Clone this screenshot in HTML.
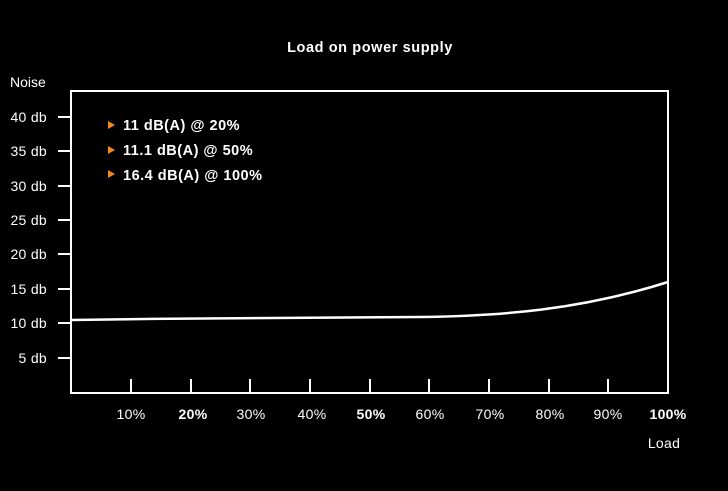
<!DOCTYPE html>
<html><head><style>
body{margin:0;background:#000;}
svg{display:block}
text{font-family:"Liberation Sans",Arial,sans-serif;fill:#fff}
</style></head><body>
<svg width="728" height="491" viewBox="0 0 728 491">
<rect width="728" height="491" fill="#000"/>
<text x="370" y="52" font-size="14.5" font-weight="bold" text-anchor="middle" letter-spacing="0.6">Load on power supply</text>
<text x="10" y="87" font-size="14">Noise</text>
<rect x="71" y="91" width="597" height="302" fill="none" stroke="#fff" stroke-width="2"/>
<g stroke="#fff" stroke-width="2">
<line x1="58" y1="117" x2="71" y2="117"/><line x1="58" y1="151" x2="71" y2="151"/>
<line x1="58" y1="186" x2="71" y2="186"/><line x1="58" y1="220" x2="71" y2="220"/>
<line x1="58" y1="254" x2="71" y2="254"/><line x1="58" y1="289" x2="71" y2="289"/>
<line x1="58" y1="323" x2="71" y2="323"/><line x1="58" y1="358" x2="71" y2="358"/>
<line x1="131" y1="379" x2="131" y2="393"/><line x1="191" y1="379" x2="191" y2="393"/>
<line x1="250" y1="379" x2="250" y2="393"/><line x1="310" y1="379" x2="310" y2="393"/>
<line x1="370" y1="379" x2="370" y2="393"/><line x1="429" y1="379" x2="429" y2="393"/>
<line x1="489" y1="379" x2="489" y2="393"/><line x1="549" y1="379" x2="549" y2="393"/>
<line x1="608" y1="379" x2="608" y2="393"/>
</g>
<g font-size="14" text-anchor="end" letter-spacing="0.3">
<text x="47" y="122">40 db</text><text x="47" y="156">35 db</text>
<text x="47" y="191">30 db</text><text x="47" y="225">25 db</text>
<text x="47" y="259">20 db</text><text x="47" y="294">15 db</text>
<text x="47" y="328">10 db</text><text x="47" y="363">5 db</text>
</g>
<g font-size="14" text-anchor="middle" letter-spacing="0.3">
<text x="131" y="419">10%</text><text x="193" y="419" font-weight="bold">20%</text>
<text x="251" y="419">30%</text><text x="312" y="419">40%</text>
<text x="371" y="419" font-weight="bold">50%</text><text x="430" y="419">60%</text>
<text x="490" y="419">70%</text><text x="550" y="419">80%</text>
<text x="608" y="419">90%</text><text x="668" y="419" font-weight="bold">100%</text>
<text x="664" y="448">Load</text>
</g>
<path d="M71 320 C200 318 350 317 420 317 C500 316 580 310 668 282" fill="none" stroke="#fff" stroke-width="2.5"/>
<g fill="#f08a1c">
<polygon points="108,121 108,129 115,125"/>
<polygon points="108,146 108,154 115,150"/>
<polygon points="108,170 108,178 115,174"/>
</g>
<g font-size="14.5" font-weight="bold" letter-spacing="0.5">
<text x="123" y="130">11 dB(A) @ 20%</text>
<text x="123" y="155">11.1 dB(A) @ 50%</text>
<text x="123" y="180">16.4 dB(A) @ 100%</text>
</g>
</svg>
</body></html>
